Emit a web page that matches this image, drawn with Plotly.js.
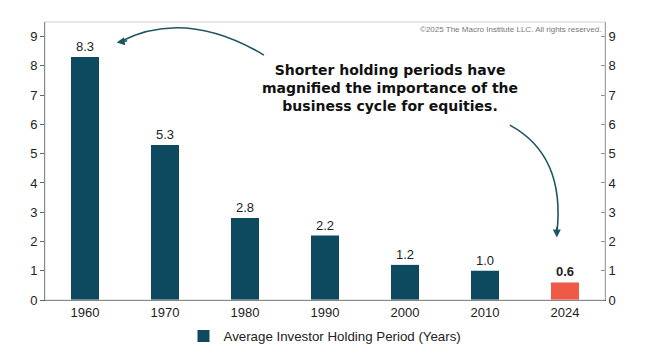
<!DOCTYPE html>
<html><head><meta charset="utf-8">
<script src="https://cdn.plot.ly/plotly-3.0.1.min.js"></script>
<style>body{margin:0;background:#fff}#c{width:657px;height:357px}</style>
</head><body><div id="c"></div>
<script>
const years = ['1960','1970','1980','1990','2000','2010','2024'];
const holding = [8.3, 5.3, 2.8, 2.2, 1.2, 1.0, 0.6];
const seriesName = 'Average Investor Holding Period (Years)';
const yTicks = [0,1,2,3,4,5,6,7,8,9];

const teal = '#0d4a5f', red = '#ef5a48', arrowC = '#1d5566';
const barColors = years.map((y,i)=> i===years.length-1 ? red : teal);
const labels = holding.map((v,i)=> i===holding.length-1 ? '<b>'+v.toFixed(1)+'</b>' : v.toFixed(1));

const fnt = {family:'Liberation Sans, Arial, sans-serif', size:13, color:'#222'};
const traces = [
 {type:'bar', x:years, y:holding, name:seriesName, marker:{color:barColors},
  text:labels, textposition:'outside', cliponaxis:false, textfont:{size:13,color:'#222'},
  hoverinfo:'skip', showlegend:false},
 {type:'bar', x:[null], y:[null], name:seriesName, marker:{color:teal}, showlegend:true},
 {type:'scatter', x:years, y:holding, yaxis:'y2', mode:'none', showlegend:false, hoverinfo:'skip'}
];
const layout = {
 width:657, height:357, margin:{l:45,r:52,t:22,b:57},
 paper_bgcolor:'#fff', plot_bgcolor:'#fff', font:fnt, bargap:0.65,
 xaxis:{type:'category', showline:true, linecolor:'#444', linewidth:1, ticks:'', showgrid:false, tickfont:{size:13}},
 yaxis:{range:[0,9.5], tickvals:yTicks, showgrid:false, zeroline:false, showline:true, linecolor:'#444', ticks:'outside', ticklen:4, tickcolor:'#666', tickfont:{size:13}},
 yaxis2:{range:[0,9.5], overlaying:'y', side:'right', tickvals:yTicks, showgrid:false, zeroline:false, showline:true, linecolor:'#777', ticks:'inside', ticklen:4, tickcolor:'#888', tickfont:{size:13}},
 legend:{orientation:'h', x:0.5, xanchor:'center', xref:'paper', y:0.058, yref:'container', yanchor:'middle', font:{size:13.3}, itemwidth:30},
 shapes:[
  {type:'rect', xref:'paper', yref:'paper', x0:0, x1:1, y0:0, y1:1, line:{color:'#cfcfcf', width:1}},
  {type:'path', xref:'paper', yref:'paper', path:'M 0.391 0.881 Q 0.25 1.05 0.133 0.928', line:{color:arrowC, width:1.6}},
  {type:'path', xref:'paper', yref:'paper', path:'M 0.830 0.629 Q 0.93 0.52 0.914 0.24', line:{color:arrowC, width:1.6}}
 ],
 annotations:[
  {xref:'paper', yref:'paper', x:0.128, y:0.926, ax:12, ay:-2, showarrow:true, arrowhead:2, arrowsize:1, arrowwidth:1.6, arrowcolor:arrowC, text:''},
  {xref:'paper', yref:'paper', x:0.914, y:0.225, ax:0, ay:-12, showarrow:true, arrowhead:2, arrowsize:1, arrowwidth:1.6, arrowcolor:arrowC, text:''},
  {xref:'paper', yref:'paper', x:0.616, y:0.763, xanchor:'center', yanchor:'middle', showarrow:false, align:'center',
   text:'<b>Shorter holding periods have<br>magnified the importance of the<br>business cycle for equities.</b>', font:{family:'DejaVu Sans, Verdana, sans-serif', size:14, color:'#111'}},
  {xref:'paper', yref:'paper', x:0.997, y:0.997, xanchor:'right', yanchor:'top', showarrow:false,
   text:'©2025 The Macro Institute LLC. All rights reserved.', font:{size:8, color:'#777'}}
 ]
};
Plotly.newPlot('c', traces, layout, {displayModeBar:false, staticPlot:true});
</script></body></html>
